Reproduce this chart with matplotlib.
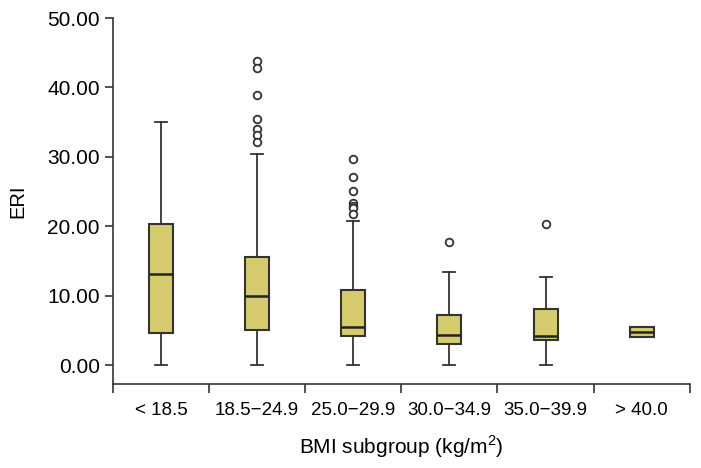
import matplotlib
matplotlib.use("Agg")
import matplotlib.pyplot as plt

plt.rcParams['font.family'] = ['Liberation Sans', 'DejaVu Sans']
plt.rcParams['mathtext.fontset'] = 'custom'
plt.rcParams['mathtext.rm'] = 'Liberation Sans'

groups = ['< 18.5', '18.5\u221224.9', '25.0\u221229.9', '30.0\u221234.9', '35.0\u221239.9', '> 40.0']
whislo = [0.0, 0.0, 0.0, 0.1, 0.1, 4.0]
q1 = [4.6, 5.0, 4.2, 3.0, 3.6, 4.0]
med = [13.1, 9.9, 5.5, 4.3, 4.2, 4.8]
q3 = [20.4, 15.6, 10.9, 7.2, 8.1, 5.5]
whishi = [35.0, 30.4, 20.7, 13.4, 12.7, 5.5]
fliers = [
    [],
    [43.8, 42.8, 38.9, 35.4, 34.0, 33.2, 32.2],
    [29.7, 27.1, 25.1, 23.3, 22.9, 22.6, 21.8],
    [17.7],
    [20.3],
    [],
]

stats = []
for i in range(len(groups)):
    stats.append(dict(whislo=whislo[i], q1=q1[i], med=med[i], q3=q3[i],
                      whishi=whishi[i], fliers=fliers[i]))

fig = plt.figure(figsize=(7.01, 4.68), dpi=100)
ax = fig.add_axes([0.161, 0.179, 0.823, 0.7825])

edge = '#333333'
ax.bxp(stats, positions=range(1, 7), widths=0.25, capwidths=0.125,
       patch_artist=True, showfliers=True,
       boxprops=dict(facecolor='#d6cb6f', edgecolor=edge, linewidth=1.5),
       medianprops=dict(color='#222222', linewidth=1.8),
       whiskerprops=dict(color=edge, linewidth=1.3),
       capprops=dict(color=edge, linewidth=1.3),
       flierprops=dict(marker='o', markersize=5.5, markerfacecolor='white',
                       markeredgecolor=edge, markeredgewidth=1.3))

ax.set_xlim(0.5, 6.5)
ax.set_ylim(-2.74, 50)
ax.set_yticks([0, 10, 20, 30, 40, 50])
ax.set_yticklabels(['%.2f' % v for v in [0, 10, 20, 30, 40, 50]])

ax.set_xticks([0.5, 1.5, 2.5, 3.5, 4.5, 5.5, 6.5])
ax.set_xticklabels([])
ax.set_xticks(range(1, 7), minor=True)
ax.set_xticklabels(groups, minor=True, fontsize=13.5)
ax.tick_params(axis='x', which='minor', length=0, pad=13)
ax.tick_params(axis='x', which='major', length=6.5, width=1.2, color=edge)
ax.tick_params(axis='y', length=6, width=1.2, color=edge, labelsize=15, pad=3.5)

for s in ['top', 'right']:
    ax.spines[s].set_visible(False)
for s in ['left', 'bottom']:
    ax.spines[s].set_color(edge)
    ax.spines[s].set_linewidth(1.2)

ax.set_ylabel('ERI', fontsize=14.5)
ax.yaxis.set_label_coords(-0.149, 0.5)
ax.set_xlabel(r'BMI subgroup (kg/m$^{2}$)', fontsize=15)
ax.xaxis.set_label_coords(0.5, -0.134)

fig.savefig('out.png', dpi=100)
